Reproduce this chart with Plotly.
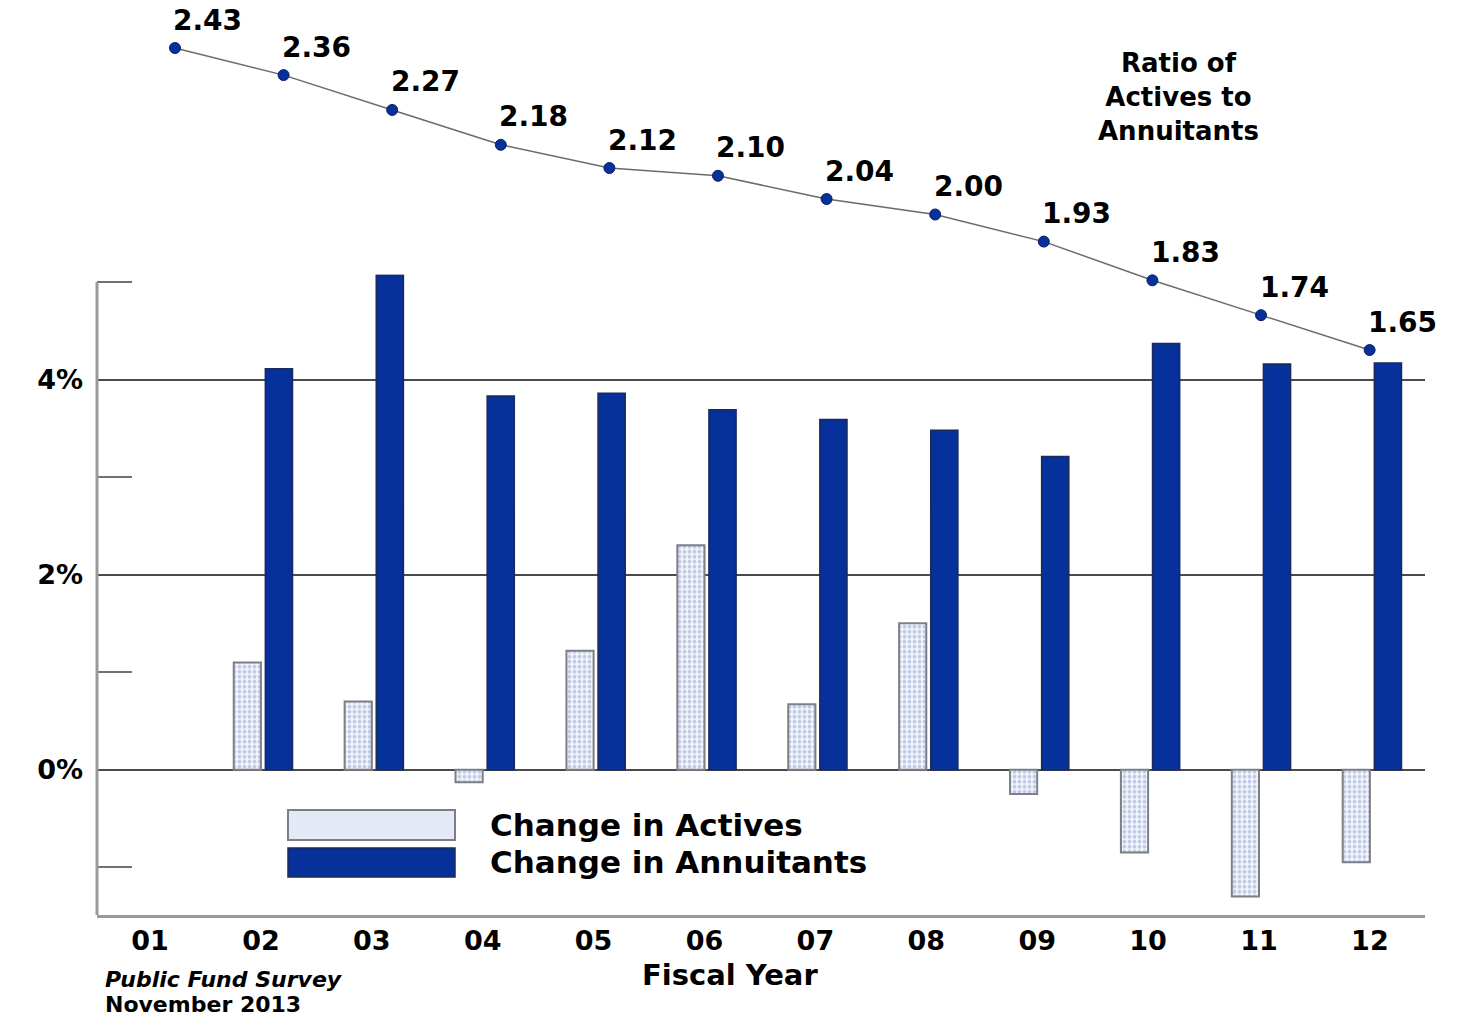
import plotly.graph_objects as go

# Fiscal years (2001-2012) and survey results
years = ["01", "02", "03", "04", "05", "06", "07", "08", "09", "10", "11", "12"]
chg_actives = [None, 1.10, 0.70, -0.13, 1.22, 2.30, 0.67, 1.50, -0.25, -0.85, -1.30, -0.95]
chg_annuitants = [None, 4.11, 5.07, 3.83, 3.86, 3.69, 3.59, 3.48, 3.21, 4.37, 4.16, 4.17]
ratio = [2.43, 2.36, 2.27, 2.18, 2.12, 2.10, 2.04, 2.00, 1.93, 1.83, 1.74, 1.65]

W, H = 1464, 1018
ML, MR = 97, 39
FONT = "DejaVu Sans"
NAVY = "#06309a"

Y_MIN, Y_TOP, Y_AXIS_END = -1.49, 5.08, 5.0
PX_PER_UNIT = 633 / (Y_AXIS_END - Y_MIN)


def px(x):
    return (x - ML) / (W - ML - MR)


def py(y):
    return 1 - y / H


fig = go.Figure()

fig.add_trace(go.Bar(
    x=years, y=chg_actives, name="Change in Actives",
    width=0.245, offset=-0.245,
    marker=dict(color="#f3f5fb",
                line=dict(color="#7d7f86", width=2),
                pattern=dict(shape=".", fgcolor="#8c9fd2", bgcolor="#f3f5fb",
                             size=5, solidity=0.45)),
    xaxis="x", yaxis="y", showlegend=False,
))
fig.add_trace(go.Bar(
    x=years, y=chg_annuitants, name="Change in Annuitants",
    width=0.245, offset=0.04,
    marker=dict(color=NAVY, line=dict(color="#1a2a5a", width=1.5)),
    xaxis="x", yaxis="y", showlegend=False,
))

# Ratio line lives on its own full-height subplot above the bars
fig.add_trace(go.Scatter(
    x=years, y=ratio, mode="lines+markers",
    line=dict(color="#6b6b6b", width=1.5),
    marker=dict(symbol="circle", size=11, color=NAVY,
                line=dict(color="#0a1f66", width=1)),
    xaxis="x2", yaxis="y2", showlegend=False, cliponaxis=False,
))

annotations = []
for i, r in enumerate(ratio):
    # category axis position given by index
    annotations.append(dict(
        x=i, y=r, xref="x2", yref="y2", text=f"{r:.2f}",
        showarrow=False, xshift=33, yshift=28,
        font=dict(family=FONT, size=28, color="black", weight="bold"),
    ))

# Text blocks
annotations += [
    dict(x=px(1178), y=py(97), xref="paper", yref="paper",
         text="Ratio of<br>Actives to<br>Annuitants", showarrow=False,
         align="center", xanchor="center", yanchor="middle",
         font=dict(family=FONT, size=26, color="black", weight="bold")),
    dict(x=px(488), y=py(825), xref="paper", yref="paper",
         text="Change in Actives", showarrow=False,
         xanchor="left", yanchor="middle",
         font=dict(family=FONT, size=31, color="black", weight="bold")),
    dict(x=px(488), y=py(862), xref="paper", yref="paper",
         text="Change in Annuitants", showarrow=False,
         xanchor="left", yanchor="middle",
         font=dict(family=FONT, size=31, color="black", weight="bold")),
    dict(x=px(730), y=py(975), xref="paper", yref="paper",
         text="Fiscal Year", showarrow=False,
         xanchor="center", yanchor="middle",
         font=dict(family=FONT, size=29, color="black", weight="bold")),
    dict(x=px(103), y=py(979), xref="paper", yref="paper",
         text="Public Fund Survey", showarrow=False,
         xanchor="left", yanchor="middle",
         font=dict(family=FONT, size=22, color="black", weight="bold",
                   style="italic")),
    dict(x=px(103), y=py(1004), xref="paper", yref="paper",
         text="November 2013", showarrow=False,
         xanchor="left", yanchor="middle",
         font=dict(family=FONT, size=22, color="black", weight="bold")),
]

shapes = [
    # left axis line, stopping at the 5% tick
    dict(type="line", xref="paper", yref="y", x0=0, x1=0,
         y0=Y_MIN, y1=Y_AXIS_END, line=dict(color="#9a9a9a", width=3),
         layer="above"),
    # legend swatches
    dict(type="rect", xref="paper", yref="paper",
         x0=px(288), x1=px(455), y0=py(840), y1=py(810),
         fillcolor="#e4e9f5", line=dict(color="#7d7f86", width=2)),
    dict(type="rect", xref="paper", yref="paper",
         x0=px(288), x1=px(455), y0=py(877), y1=py(848),
         fillcolor=NAVY, line=dict(color="#1a2a5a", width=1.5)),
]

y_top_px = 915 - (Y_TOP - Y_MIN) * PX_PER_UNIT

fig.update_layout(
    width=W, height=H,
    margin=dict(l=ML, r=MR, t=0, b=0, autoexpand=False),
    plot_bgcolor="rgba(0,0,0,0)", paper_bgcolor="white",
    barmode="overlay",
    annotations=annotations, shapes=shapes,
    xaxis=dict(
        type="category", domain=[0, 1], range=[-0.478, 11.497],
        anchor="y", showline=True, linecolor="#9a9a9a", linewidth=3,
        showgrid=False, ticks="", tickfont=dict(family=FONT, size=27,
                                                 color="black", weight="bold"),
        fixedrange=True,
    ),
    yaxis=dict(
        domain=[(H - 915) / H, (H - y_top_px) / H], range=[Y_MIN, Y_TOP],
        anchor="x", showline=False,
        tickvals=[0, 2, 4], ticktext=["0%", "2%", "4%"],
        ticks="", showgrid=True, gridcolor="#4a4a4a", gridwidth=1.5,
        zeroline=False,
        minor=dict(tickvals=[-1, 1, 3, 5], ticks="inside", ticklen=35,
                   tickcolor="#707070", tickwidth=1.5, showgrid=False),
        tickfont=dict(family=FONT, size=27, color="black", weight="bold"),
        ticklabelstandoff=13,
    ),
    xaxis2=dict(
        type="category", domain=[0, 1], range=[-0.718, 11.51],
        anchor="y2", visible=False,
    ),
    yaxis2=dict(
        domain=[0, 1], range=[-0.0753, 2.554], anchor="x2",
        visible=False,
    ),
)

fig.write_html("out.html")
